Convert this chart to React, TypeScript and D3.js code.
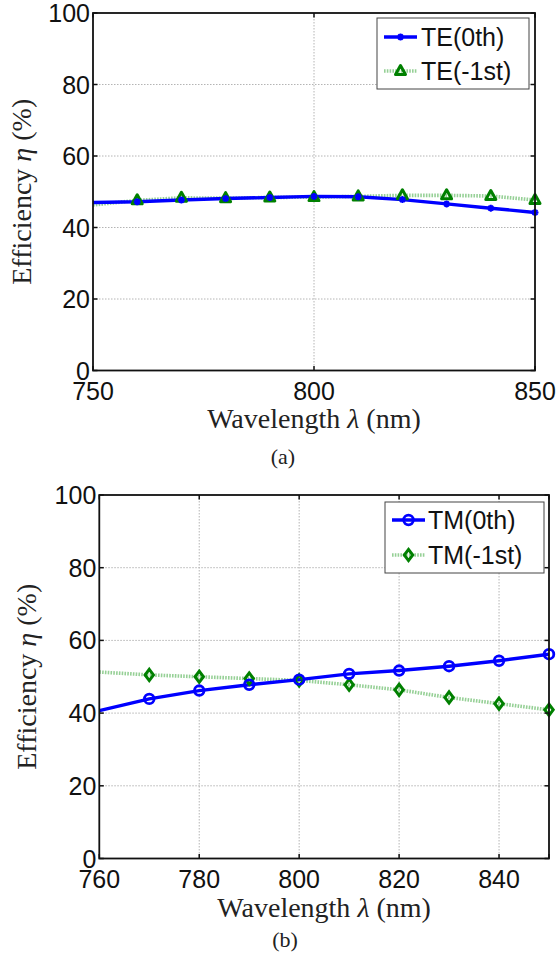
import React, { useEffect, useRef } from 'react'
import * as d3 from 'd3'

// panel (a): TE orders
const teWavelength = [750, 760, 770, 780, 790, 800, 810, 820, 830, 840, 850]
const teZero = [47.0, 47.2, 47.7, 48.1, 48.4, 48.7, 48.6, 47.8, 46.6, 45.4, 44.2]
const teMinusOne = [46.3, 47.6, 48.3, 48.2, 48.4, 48.5, 48.7, 49.0, 49.0, 48.8, 47.7]
const teXTicks = [750, 800, 850]

// panel (b): TM orders
const tmWavelength = [760, 770, 780, 790, 800, 810, 820, 830, 840, 850]
const tmZero = [40.7, 43.9, 46.2, 47.8, 49.2, 50.8, 51.7, 52.9, 54.4, 56.2]
const tmMinusOne = [51.3, 50.5, 50.0, 49.5, 49.0, 47.8, 46.4, 44.3, 42.6, 40.9]
const tmXTicks = [760, 780, 800, 820, 840]

const yTicks = [0, 20, 40, 60, 80, 100]

const BLUE = '#0000ff'
const GREEN = '#008000'
const PALE_GREEN = '#96d096'
const SANS = '"Liberation Sans", Arial, sans-serif'
const SERIF = '"Liberation Serif", "Times New Roman", serif'

type Marker = 'star' | 'triangle' | 'circle' | 'diamond'
type Series = { name: string, values: number[], marker: Marker, solid: boolean }

function drawMarker(g: any, kind: Marker, x: number, y: number, color: string) {
    if (kind === 'star') {
        const s = 3.5
        const p = `M${x - s},${y}L${x + s},${y}M${x},${y - s}L${x},${y + s}M${x - s * 0.7},${y - s * 0.7}L${x + s * 0.7},${y + s * 0.7}M${x - s * 0.7},${y + s * 0.7}L${x + s * 0.7},${y - s * 0.7}`
        g.append('path').attr('d', p).attr('stroke', color).attr('stroke-width', 2).attr('fill', 'none')
    } else if (kind === 'triangle') {
        const p = `M${x},${y - 5.5}L${x + 5},${y + 3.5}L${x - 5},${y + 3.5}Z`
        g.append('path').attr('d', p).attr('stroke', color).attr('stroke-width', 3).attr('fill', 'none').attr('stroke-linejoin', 'round')
    } else if (kind === 'circle') {
        g.append('circle').attr('cx', x).attr('cy', y).attr('r', 4.8).attr('stroke', color).attr('stroke-width', 2.8).attr('fill', 'none')
    } else {
        const p = `M${x},${y - 5.6}L${x + 4.2},${y}L${x},${y + 5.6}L${x - 4.2},${y}Z`
        g.append('path').attr('d', p).attr('stroke', color).attr('stroke-width', 3).attr('fill', 'none')
    }
}

function drawPanel(svg: any, cfg: any) {
    const { left, right, top, bottom, wavelength, series, xTicks, xDomain, legend, yLabelX, xLabelY, sub } = cfg
    const x = d3.scaleLinear().domain(xDomain).range([left, right])
    const y = d3.scaleLinear().domain([0, 100]).range([bottom, top])
    const g = svg.append('g')

    // grid
    const innerX = xTicks.filter((t: number) => t > xDomain[0] && t < xDomain[1])
    g.selectAll('.vgrid').data(innerX).join('line')
        .attr('x1', (d: number) => x(d)).attr('x2', (d: number) => x(d)).attr('y1', top).attr('y2', bottom)
        .attr('stroke', '#b4b4b4').attr('stroke-width', 1).attr('stroke-dasharray', '1.5,1.5')
    g.selectAll('.hgrid').data(yTicks.slice(1, -1)).join('line')
        .attr('x1', left).attr('x2', right).attr('y1', (d: number) => y(d)).attr('y2', (d: number) => y(d))
        .attr('stroke', '#b4b4b4').attr('stroke-width', 1).attr('stroke-dasharray', '1.5,1.5')

    // lines
    const clipId = 'clip' + Math.round(top)
    svg.append('clipPath').attr('id', clipId).append('rect')
        .attr('x', left).attr('y', top).attr('width', right - left).attr('height', bottom - top)
    const lineG = g.append('g').attr('clip-path', `url(#${clipId})`)
    const line = d3.line<number>().x((_, i) => x(wavelength[i])).y(d => y(d))
    // pale dotted series first, solid on top
    const ordered = [...series].sort((a: Series, b: Series) => (a.solid ? 1 : 0) - (b.solid ? 1 : 0))
    ordered.forEach((s: Series) => {
        lineG.append('path').attr('d', line(s.values))
            .attr('fill', 'none')
            .attr('stroke', s.solid ? BLUE : PALE_GREEN)
            .attr('stroke-width', s.solid ? 3.4 : 3.6)
            .attr('stroke-dasharray', s.solid ? null : '1.6,1.2')
    })
    ordered.forEach((s: Series) => {
        const color = s.solid ? BLUE : GREEN
        s.values.forEach((v, i) => {
            if (wavelength[i] <= xDomain[0]) return
            drawMarker(g, s.marker, x(wavelength[i]), y(v), color)
        })
    })

    // box and ticks
    g.append('rect').attr('x', left).attr('y', top).attr('width', right - left).attr('height', bottom - top)
        .attr('fill', 'none').attr('stroke', '#111').attr('stroke-width', 1.8)
    const tl = 4.5
    xTicks.concat([xDomain[1]]).forEach((t: number) => {
        g.append('line').attr('x1', x(t)).attr('x2', x(t)).attr('y1', bottom).attr('y2', bottom - tl).attr('stroke', '#111').attr('stroke-width', 1.5)
        g.append('line').attr('x1', x(t)).attr('x2', x(t)).attr('y1', top).attr('y2', top + tl).attr('stroke', '#111').attr('stroke-width', 1.5)
    })
    yTicks.forEach(t => {
        g.append('line').attr('x1', left).attr('x2', left + tl).attr('y1', y(t)).attr('y2', y(t)).attr('stroke', '#111').attr('stroke-width', 1.5)
        g.append('line').attr('x1', right).attr('x2', right - tl).attr('y1', y(t)).attr('y2', y(t)).attr('stroke', '#111').attr('stroke-width', 1.5)
    })

    // tick labels
    g.selectAll('.ylab').data(yTicks).join('text')
        .attr('x', left - 3).attr('y', (d: number) => y(d)).attr('dy', '0.36em')
        .attr('text-anchor', 'end').attr('font-family', SANS).attr('font-size', 25).attr('fill', '#111')
        .text((d: number) => d)
    g.selectAll('.xlab').data(xTicks).join('text')
        .attr('x', (d: number) => x(d)).attr('y', bottom + 29.5)
        .attr('text-anchor', 'middle').attr('font-family', SANS).attr('font-size', 25).attr('fill', '#111')
        .text((d: number) => d)

    // axis titles
    const xt = g.append('text').attr('x', (left + right) / 2).attr('y', xLabelY)
        .attr('text-anchor', 'middle').attr('font-family', SERIF).attr('font-size', 28).attr('fill', '#222')
    xt.append('tspan').text('Wavelength ')
    xt.append('tspan').attr('font-style', 'italic').text('λ')
    xt.append('tspan').text(' (nm)')

    const yt = g.append('text').attr('transform', `translate(${yLabelX}, ${(top + bottom) / 2}) rotate(-90)`)
        .attr('text-anchor', 'middle').attr('font-family', SERIF).attr('font-size', 28).attr('fill', '#222')
    yt.append('tspan').text('Efficiency ')
    yt.append('tspan').attr('font-style', 'italic').text('η')
    yt.append('tspan').text(' (%)')

    g.append('text').attr('x', sub.x).attr('y', sub.y).attr('text-anchor', 'middle')
        .attr('font-family', SERIF).attr('font-size', 22).attr('fill', '#222').text(sub.text)

    // legend
    const lg = g.append('g')
    lg.append('rect').attr('x', legend.x0).attr('y', legend.y0).attr('width', legend.x1 - legend.x0).attr('height', legend.y1 - legend.y0)
        .attr('fill', 'white').attr('stroke', '#444').attr('stroke-width', 1)
    series.forEach((s: Series, i: number) => {
        const ry = legend.rows[i]
        lg.append('line').attr('x1', legend.lx0).attr('x2', legend.lx1).attr('y1', ry).attr('y2', ry)
            .attr('stroke', s.solid ? BLUE : PALE_GREEN).attr('stroke-width', s.solid ? 3.4 : 3.6)
            .attr('stroke-dasharray', s.solid ? null : '1.6,1.2')
        drawMarker(lg, s.marker, (legend.lx0 + legend.lx1) / 2, ry, s.solid ? BLUE : GREEN)
        lg.append('text').attr('x', legend.tx).attr('y', ry).attr('dy', '0.36em')
            .attr('font-family', SANS).attr('font-size', 25).attr('fill', '#111').text(s.name)
    })
}

export default function App() {
    const ref = useRef<SVGSVGElement>(null)

    useEffect(() => {
        const svg = d3.select(ref.current)
        svg.selectAll('*').remove()

        drawPanel(svg, {
            left: 93, right: 535, top: 13, bottom: 370.5,
            wavelength: teWavelength, xDomain: [750, 850], xTicks: teXTicks,
            series: [
                { name: 'TE(0th)', values: teZero, marker: 'star', solid: true },
                { name: 'TE(-1st)', values: teMinusOne, marker: 'triangle', solid: false },
            ],
            legend: { x0: 377, x1: 529, y0: 18, y1: 89, rows: [37, 71], lx0: 384, lx1: 417, tx: 421 },
            yLabelX: 31, xLabelY: 428,
            sub: { text: '(a)', x: 283, y: 464 },
        })

        drawPanel(svg, {
            left: 99.3, right: 549, top: 495, bottom: 858.5,
            wavelength: tmWavelength, xDomain: [760, 850], xTicks: tmXTicks,
            series: [
                { name: 'TM(0th)', values: tmZero, marker: 'circle', solid: true },
                { name: 'TM(-1st)', values: tmMinusOne, marker: 'diamond', solid: false },
            ],
            legend: { x0: 385, x1: 544, y0: 502, y1: 573, rows: [520, 555], lx0: 392, lx1: 425, tx: 428 },
            yLabelX: 36, xLabelY: 917,
            sub: { text: '(b)', x: 285, y: 947 },
        })
    }, [])

    return (
        <svg ref={ref} width={559} height={953}
            style={{ position: 'absolute', left: 0, top: 0, background: 'white' }} />
    )
}
